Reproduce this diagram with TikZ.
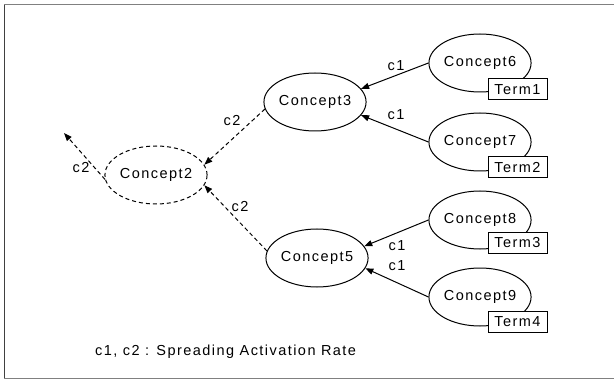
\documentclass[tikz,border=0pt]{standalone}
\usepackage{fontspec}
\setmainfont[LetterSpace=10]{Liberation Sans}
\usetikzlibrary{arrows.meta,shapes.geometric}
\begin{document}
\begin{tikzpicture}[x=1pt,y=-1pt,
  every node/.style={font=\fontsize{14.5}{16}\selectfont},
  concept/.style={draw,ellipse,line width=1pt,minimum width=96pt,minimum height=58pt,inner sep=0pt},
  term/.style={draw,fill=white,rectangle,line width=1pt,minimum width=59pt,minimum height=21pt,inner sep=0pt},
  lbl/.style={inner sep=0pt},
  arr/.style={-{Triangle[length=8pt,width=6pt]},line width=1pt},
  darr/.style={arr,dash pattern=on 4pt off 3pt}]
\useasboundingbox (0,0) rectangle (615,379);
\draw[gray,line width=1pt] (4,5) -- (614,5);
\draw[gray,line width=1pt] (4,378) -- (614,378);
\draw[black!75,line width=1pt] (4,5) -- (4,378);

\node[concept,dash pattern=on 4pt off 3pt] (c2) at (156,175) {Concept2};
\node[concept] (c3) at (315,102) {Concept3};
\node[concept] (c5) at (317,258) {Concept5};
\node[concept] (c6) at (480,63) {Concept6};
\node[concept] (c7) at (480,142) {Concept7};
\node[concept] (c8) at (480,220) {Concept8};
\node[concept] (c9) at (480,297) {Concept9};

\node[term] (t1) at (517.5,89.5) {Term1};
\node[term] (t2) at (517.5,167.5) {Term2};
\node[term] (t3) at (517.5,243) {Term3};
\node[term] (t4) at (517.5,322) {Term4};

\draw[arr] (c6.west) -- (c3.16);
\draw[arr] (c7.west) -- (c3.-16);
\draw[arr] (c8.west) -- (c5.14);
\draw[arr] (c9.west) -- (c5.-12);

\draw[darr] (c3.188) -- (c2.12);
\draw[darr] (c5.172) -- (c2.-12);
\coordinate (out) at (64,133);
\draw[darr] (c2.185) -- (out);

\node[lbl] (l1) at (396,66) {c1};
\node[lbl] (l2) at (396,115) {c1};
\node[lbl] (l3) at (397,246) {c1};
\node[lbl] (l4) at (397,266) {c1};
\node[lbl] (l5) at (232,121) {c2};
\node[lbl] (l6) at (240,207) {c2};
\node[lbl] (l7) at (81,168) {c2};

\node[lbl,anchor=west] (legend) at (95,352) {c1, c2 : Spreading Activation Rate};
\end{tikzpicture}
\end{document}
